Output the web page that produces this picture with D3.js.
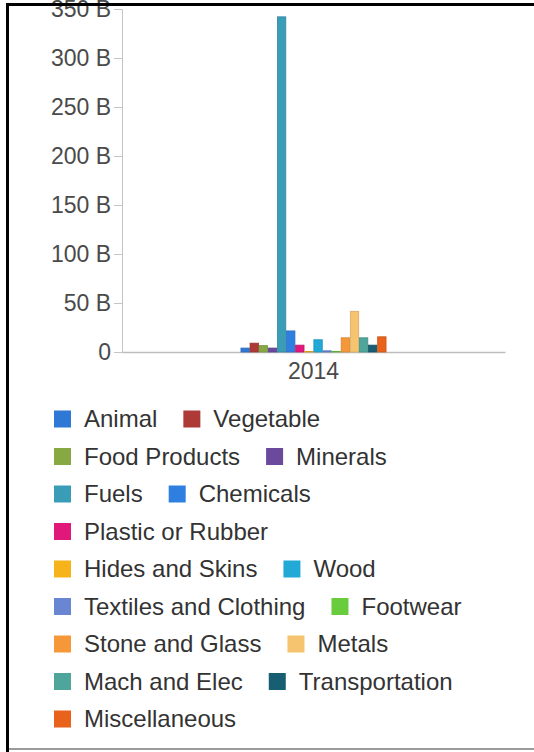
<!DOCTYPE html>
<html>
<head>
<meta charset="utf-8">
<script src="https://cdn.jsdelivr.net/npm/d3@7"></script>
<style>
  body { margin: 0; background: #fff; }
  svg { display: block; font-family: "Liberation Sans", Arial, sans-serif; }
</style>
</head>
<body>
<div id="chart"></div>
<script>
// data (billions)
var years = ["2014"];
var sectors = ["Animal", "Vegetable", "Food Products", "Minerals", "Fuels", "Chemicals",
  "Plastic or Rubber", "Hides and Skins", "Wood", "Textiles and Clothing", "Footwear",
  "Stone and Glass", "Metals", "Mach and Elec", "Transportation", "Miscellaneous"];
var colors = ["#2f78d6", "#ad3a36", "#87a843", "#6b4a9e", "#3a9db8", "#2f7fe0",
  "#e0187a", "#f6b31a", "#22a9d6", "#6a86d2", "#68cc3c",
  "#f6973a", "#f6c46e", "#4ea59b", "#175e72", "#e9621c"];
var values2014 = [4, 9, 6.5, 4, 342, 21.5, 7, 0.6, 12.5, 1.2, 0.5, 14.5, 41.5, 14.5, 7, 15.5];
var yTicks = [0, 50, 100, 150, 200, 250, 300, 350];

var W = 534, H = 752;
var svg = d3.select("#chart").append("svg").attr("width", W).attr("height", H);

var x0 = d3.scaleBand().domain(years).range([122, 505]).paddingOuter(0.82).paddingInner(0);
var x1 = d3.scaleBand().domain(sectors).range([0, x0.bandwidth()]).paddingInner(0.08);
var y = d3.scaleLinear().domain([0, 350]).range([352, 9]);

// y axis
var yAxis = svg.append("g")
  .attr("transform", "translate(122,0)")
  .call(d3.axisLeft(y).tickValues(yTicks).tickSize(8).tickPadding(3)
    .tickFormat(function(d) { return d === 0 ? "0" : d + " B"; }));
yAxis.select(".domain").attr("stroke", "#c4c4c4");
yAxis.selectAll(".tick line").attr("stroke", "#c4c4c4");
yAxis.selectAll("text").attr("fill", "#4a4a4a").style("font-size", "23px")
  .style("font-family", "'Liberation Sans', Arial, sans-serif");

// x axis
var xAxis = svg.append("g")
  .attr("transform", "translate(0,352)")
  .call(d3.axisBottom(x0).tickSizeInner(0).tickSizeOuter(0).tickPadding(11));
xAxis.select(".domain").attr("stroke", "#bdbdbd").attr("stroke-width", 1.5);
xAxis.selectAll("text").attr("fill", "#4a4a4a").style("font-size", "23px")
  .style("font-family", "'Liberation Sans', Arial, sans-serif");

// bars
var rows = sectors.map(function(s, i) { return {sector: s, value: values2014[i], color: colors[i]}; });
svg.append("g")
  .attr("transform", "translate(" + x0("2014") + ",0)")
  .selectAll("rect")
  .data(rows)
  .enter().append("rect")
  .attr("x", function(d) { return x1(d.sector); })
  .attr("width", x1.bandwidth())
  .attr("y", function(d) { return y(d.value); })
  .attr("height", function(d) { return y(0) - y(d.value); })
  .attr("fill", function(d) { return d.color; })
  .attr("stroke", function(d) { return d3.color(d.color).darker(0.4); })
  .attr("stroke-width", 0.8);

// legend, flowing left to right and wrapping
var legend = svg.append("g");
var lx = 54, ly = 419, rowH = 37.5, maxX = 480;
rows.forEach(function(d) {
  var item = legend.append("g");
  var t = item.append("text")
    .attr("x", 30).attr("y", 0).attr("dy", "0.35em")
    .attr("fill", "#333")
    .style("font-size", "24px")
    .text(d.sector);
  var tw = t.node().getComputedTextLength();
  if (lx > 54 && lx + 30 + tw > maxX) {
    lx = 54;
    ly += rowH;
  }
  item.append("rect")
    .attr("x", 0).attr("y", -8.5)
    .attr("width", 17).attr("height", 17)
    .attr("fill", d.color);
  item.attr("transform", "translate(" + lx + "," + ly + ")");
  lx += 30 + tw + 26;
});

// screenshot frame
svg.append("rect").attr("x", 6).attr("y", 3).attr("width", W - 6).attr("height", 3).attr("fill", "#000");
svg.append("rect").attr("x", 6).attr("y", 3).attr("width", 3).attr("height", H - 3).attr("fill", "#000");
svg.append("rect").attr("x", 9).attr("y", 748).attr("width", W - 9).attr("height", 2).attr("fill", "#9a9a9a");
</script>
</body>
</html>
